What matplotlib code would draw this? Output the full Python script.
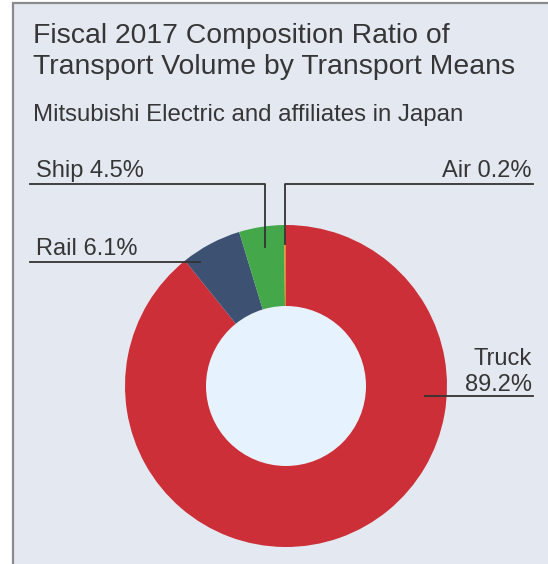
import matplotlib
matplotlib.use("Agg")
import matplotlib.pyplot as plt
from matplotlib.patches import Rectangle, Circle

plt.rcParams['font.family'] = ['Liberation Sans', 'DejaVu Sans']

title_lines = ["Fiscal 2017 Composition Ratio of", "Transport Volume by Transport Means"]
subtitle = "Mitsubishi Electric and affiliates in Japan"
categories = ["Truck", "Rail", "Ship", "Air"]
values = [89.2, 6.1, 4.5, 0.2]
colors = ["#CC2F38", "#3D5273", "#44A84A", "#E8862A"]

W, H = 548, 564
fig = plt.figure(figsize=(W / 100, H / 100), dpi=100)
fig.patch.set_facecolor("white")
ax = fig.add_axes([0, 0, 1, 1])

def Y(y):
    return H - y

cx, cy, R = 286, 386, 161
ax.pie(values, colors=colors, startangle=90, counterclock=False,
       center=(cx, Y(cy)), radius=R, frame=True,
       wedgeprops=dict(linewidth=0, zorder=3))
ax.set_xlim(0, W)
ax.set_ylim(0, H)
ax.set_aspect("equal")
ax.axis("off")

# panel frame
ax.add_patch(Rectangle((13, Y(700)), 600, 700 - 3, facecolor="#E4E9F1",
                       edgecolor="#8A8A8A", linewidth=1.6, zorder=0))
ax.add_patch(Circle((cx, Y(cy)), 80, facecolor="#E6F2FE", edgecolor="none", zorder=5))

txt = "#363636"
ax.text(33, Y(42.7), title_lines[0], fontsize=20.4, color=txt, va="baseline", ha="left")
ax.text(33, Y(74), title_lines[1], fontsize=20.4, color=txt, va="baseline", ha="left")
ax.text(33, Y(121), subtitle, fontsize=17.3, color=txt, va="baseline", ha="left")

lc = "#333333"
lw = 1.3
fs = 17.0
# Ship
ax.plot([30, 265, 265], [Y(183.5), Y(183.5), Y(247)], color=lc, lw=lw, zorder=6)
ax.text(35.5, Y(177.3), f"{categories[2]} {values[2]}%", fontsize=fs, color=txt,
        ha="left", va="baseline")
# Air
ax.plot([533, 285, 285], [Y(183.5), Y(183.5), Y(244)], color=lc, lw=lw, zorder=6)
ax.text(531, Y(177.3), f"{categories[3]} {values[3]}%", fontsize=fs, color=txt,
        ha="right", va="baseline")
# Rail
ax.plot([30, 200], [Y(262.3), Y(262.3)], color=lc, lw=lw, zorder=6)
ax.text(35.5, Y(255), f"{categories[1]} {values[1]}%", fontsize=fs, color=txt,
        ha="left", va="baseline")
# Truck
ax.plot([425, 533], [Y(396), Y(396)], color=lc, lw=lw, zorder=6)
ax.text(532, Y(365), f"{categories[0]}", fontsize=fs, color=txt,
        ha="right", va="baseline")
ax.text(532, Y(391), f"{values[0]}%", fontsize=fs, color=txt,
        ha="right", va="baseline")

fig.savefig("out.png", dpi=100, facecolor=fig.get_facecolor())
